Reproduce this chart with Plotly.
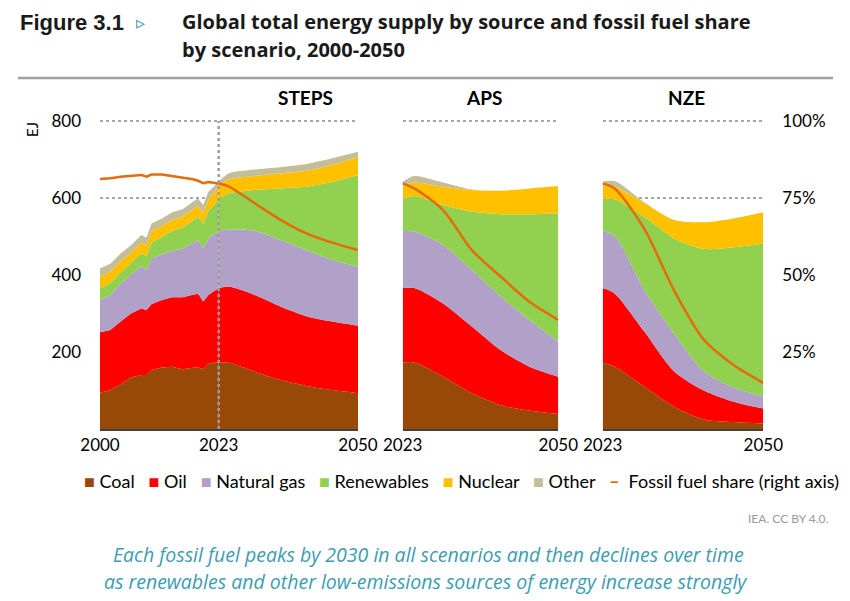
import plotly.graph_objects as go

W, H = 850, 601

# ---- data (EJ) ----
hist_years = [2000, 2002, 2004, 2006, 2008, 2009, 2010, 2012, 2014, 2016,
              2018, 2019, 2020, 2021, 2022, 2023]
hist_coal = [94, 101, 116, 134, 140, 140, 153, 160, 162, 155, 159, 160, 155, 169, 172, 173]
hist_oil = [157, 156, 163, 166, 173, 169, 172, 175, 180, 187, 190, 191, 176, 179, 185, 193]
hist_gas = [84, 91, 99, 100, 110, 104, 118, 119, 121, 127, 135, 140, 138, 147, 148, 148]
hist_renew = [30, 31, 28, 30, 33, 36, 42, 45, 52, 54, 58, 60, 64, 71, 75, 84]
hist_nuclear = [30, 30, 30, 28, 28, 28, 29, 28, 28, 28, 29, 29, 28, 31, 31, 34]
hist_other = [22, 20, 20, 19, 20, 20, 20, 20, 20, 20, 19, 19, 21, 19, 18, 10]
hist_share = [81.2, 81.4, 81.9, 82.2, 82.5, 81.9, 82.6, 82.6, 82.1, 81.6,
              81.1, 80.6, 79.8, 80.2, 80.0, 79.7]

proj_years = [2023, 2025, 2030, 2035, 2040, 2045, 2050]

steps_coal = [173, 172, 149, 127, 112, 101, 93]
steps_oil = [193, 198, 199, 191, 181, 178, 175]
steps_gas = [148, 148, 167, 173, 172, 160, 154]
steps_renew = [84, 94, 106, 134, 164, 203, 238]
steps_nuclear = [34, 36, 36, 39, 42, 44, 47]
steps_other = [10, 16, 17, 16, 17, 17, 13]
steps_share = [79.7, 78.7, 73.3, 67.9, 63.5, 60.5, 58.1]

aps_coal = [173, 173, 136, 93, 62, 48, 39]
aps_oil = [193, 193, 190, 173, 143, 114, 97]
aps_gas = [148, 147, 152, 147, 139, 121, 91]
aps_renew = [84, 92, 104, 152, 214, 275, 333]
aps_nuclear = [34, 35, 47, 56, 61, 67, 71]
aps_other = [10, 17, 11, 1, 0, 0, 0]
aps_share = [79.7, 78.1, 71.1, 58.1, 49.5, 41.3, 35.4]

nze_coal = [173, 162, 110, 58, 25, 18, 14]
nze_oil = [193, 190, 143, 92, 75, 53, 39]
nze_gas = [148, 150, 109, 98, 50, 37, 32]
nze_renew = [84, 95, 189, 247, 318, 364, 397]
nze_nuclear = [34, 33, 36, 48, 69, 75, 81]
nze_other = [10, 14, 2, 0, 0, 0, 0]
nze_share = [79.7, 78.1, 65.0, 45.0, 29.0, 20.8, 15.0]

sources = ["Coal", "Oil", "Natural gas", "Renewables", "Nuclear", "Other"]
colors = ["#984807", "#FF0000", "#B1A0C7", "#92D050", "#FFC000", "#C4BD97"]
share_label = "Fossil fuel share (right axis)"
share_color = "#E46C0A"
share_ticks = [25, 50, 75, 100]

BODY = "Lato, Roboto, sans-serif"
TITLE_FONT = "Open Sans, Lato, sans-serif"
GRID = "#A6A6A6"

# the page puts the chart 8px in from the top-left corner
OFF = 8


def px(x):
    return (x - OFF) / W


def py(y):
    return 1 - (y - OFF) / H


fig = go.Figure()


def add_stack(years, series, group, xa, shape):
    for name, vals, col in zip(sources, series, colors):
        fig.add_trace(go.Scatter(
            x=years, y=vals, stackgroup=group, mode="lines",
            line=dict(width=0, shape=shape, smoothing=0.8),
            fillcolor=col, name=name, showlegend=False,
            xaxis=xa, yaxis="y", hoverinfo="x+y+name",
        ))


def add_share(years, vals, xa, shape):
    fig.add_trace(go.Scatter(
        x=years, y=vals, mode="lines",
        line=dict(color=share_color, width=2.5, shape=shape, smoothing=0.8),
        name=share_label, showlegend=False,
        xaxis=xa, yaxis="y2",
    ))


add_stack(hist_years, [hist_coal, hist_oil, hist_gas, hist_renew, hist_nuclear, hist_other],
          "hist", "x", "linear")
add_stack(proj_years, [steps_coal, steps_oil, steps_gas, steps_renew, steps_nuclear, steps_other],
          "steps", "x", "spline")
add_stack(proj_years, [aps_coal, aps_oil, aps_gas, aps_renew, aps_nuclear, aps_other],
          "aps", "x2", "spline")
add_stack(proj_years, [nze_coal, nze_oil, nze_gas, nze_renew, nze_nuclear, nze_other],
          "nze", "x3", "spline")

add_share(hist_years, hist_share, "x", "linear")
add_share(proj_years, steps_share, "x", "spline")
add_share(proj_years, aps_share, "x2", "spline")
add_share(proj_years, nze_share, "x3", "spline")

# y range padded a touch so the 800 gridline is drawn; 0.385 px per EJ
Y_TOP = 804
ydom = [py(429), py(429 - Y_TOP * 0.385)]
xaxis_common = dict(
    showgrid=False, zeroline=False, showline=True, linecolor="#404040", linewidth=1.5,
    ticks="", tickfont=dict(family=BODY, size=17, color="#000"), anchor="y",
    fixedrange=True,
)

fig.update_layout(
    width=W, height=H,
    margin=dict(l=0, r=0, t=0, b=0, autoexpand=False),
    paper_bgcolor="white", plot_bgcolor="rgba(0,0,0,0)",
    showlegend=False,
    xaxis=dict(domain=[px(100), px(358)], range=[2000, 2050],
               tickvals=[2000, 2023, 2050], **xaxis_common),
    xaxis2=dict(domain=[px(402.7), px(558.3)], range=[2023, 2050],
                tickvals=[2023, 2050], **xaxis_common),
    xaxis3=dict(domain=[px(602.7), px(763.3)], range=[2023, 2050],
                tickvals=[2023, 2050], **xaxis_common),
    yaxis=dict(
        domain=ydom, range=[0, Y_TOP], tickvals=[200, 400, 600, 800],
        showgrid=True, gridcolor=GRID, griddash="dot", gridwidth=2,
        zeroline=False, ticks="", ticklabelstandoff=18, anchor="x",
        tickfont=dict(family=BODY, size=17, color="#000"), fixedrange=True,
    ),
    yaxis2=dict(
        domain=ydom, range=[0, Y_TOP / 8], overlaying="y", side="right", anchor="x3",
        tickvals=share_ticks, ticktext=[f"{v}%" for v in share_ticks],
        showgrid=False, zeroline=False, ticks="", ticklabelstandoff=18,
        tickfont=dict(family=BODY, size=17, color="#000"), fixedrange=True,
    ),
)

# vertical marker for the base year in STEPS
fig.add_shape(type="line", xref="x", yref="y", x0=2023, x1=2023, y0=0, y1=800,
              line=dict(color="#9C9C9C", width=2.5, dash="dot"), layer="above")

# rule under the title
fig.add_shape(type="line", xref="paper", yref="paper", x0=px(18), x1=px(833),
              y0=py(78), y1=py(78), line=dict(color="#A0A0A0", width=2.5))

# legend line built as text: coloured squares followed by the labels
sp = "\u00a0"
legend_parts = [f'<span style="color:{c}">\u25a0</span>{sp}{n}' for n, c in zip(sources, colors)]
legend_parts.append(f'<span style="color:{share_color}"><b>\u2013</b></span>{sp}{sp}{share_label}')
legend_text = (sp * 3).join(legend_parts)

notes = [
    dict(text="<b>Figure 3.1</b>", x=px(18), y=py(23), xanchor="left",
         font=dict(family="Liberation Sans, Arial, sans-serif", size=22, color="#1a1a1a")),
    dict(text="\u25b9", x=px(134), y=py(23), xanchor="left",
         font=dict(family="DejaVu Sans", size=18, color="#3C9DB0")),
    dict(text="<b>Global total energy supply by source and fossil fuel share</b>",
         x=px(180), y=py(22), xanchor="left",
         font=dict(family=TITLE_FONT, size=20, color="#1a1a1a")),
    dict(text="<b>by scenario, 2000-2050</b>", x=px(180), y=py(50), xanchor="left",
         font=dict(family=TITLE_FONT, size=20, color="#1a1a1a")),
    dict(text="<b>STEPS</b>", x=px(305), y=py(98), xanchor="center",
         font=dict(family=BODY, size=19, color="#000")),
    dict(text="<b>APS</b>", x=px(484), y=py(98), xanchor="center",
         font=dict(family=BODY, size=19, color="#000")),
    dict(text="<b>NZE</b>", x=px(686), y=py(98), xanchor="center",
         font=dict(family=BODY, size=19, color="#000")),
    dict(text="EJ", x=px(32), y=py(130), xanchor="center", textangle=-90,
         font=dict(family=BODY, size=15, color="#000")),
    dict(text=legend_text, x=px(462), y=py(481), xanchor="center",
         font=dict(family=BODY, size=18, color="#000")),
    dict(text="IEA. CC BY 4.0.", x=px(831), y=py(518), xanchor="right",
         font=dict(family=BODY, size=12, color="#9A9A9A")),
    dict(text="<i>Each fossil fuel peaks by 2030 in all scenarios and then declines over time</i>",
         x=px(428), y=py(554), xanchor="center",
         font=dict(family=TITLE_FONT, size=19.5, color="#3C9DB0")),
    dict(text="<i>as renewables and other low-emissions sources of energy increase strongly</i>",
         x=px(425), y=py(581), xanchor="center",
         font=dict(family=TITLE_FONT, size=19.5, color="#3C9DB0")),
]
for n in notes:
    fig.add_annotation(xref="paper", yref="paper", yanchor="middle", showarrow=False, **n)

fig.write_html("out.html")
